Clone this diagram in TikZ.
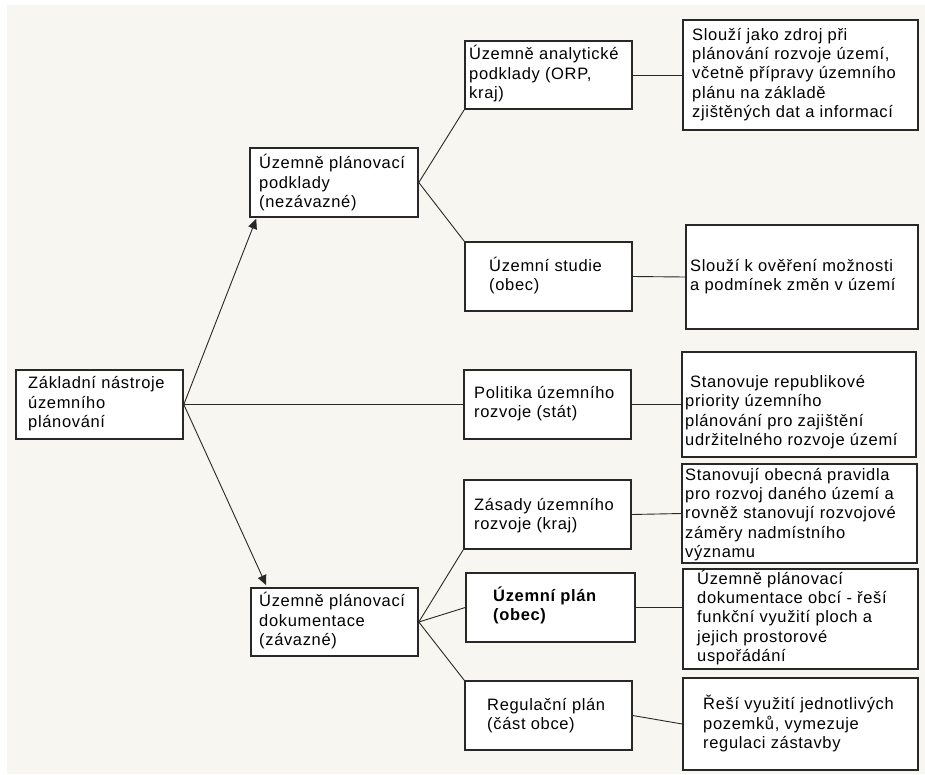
\documentclass[tikz,border=0pt]{standalone}
\usepackage{fontspec}
\setmainfont{Liberation Sans}[LetterSpace=4]
\usetikzlibrary{fit,arrows.meta}
\definecolor{bg}{RGB}{248,246,240}
\definecolor{ln}{RGB}{40,40,40}
\begin{document}
\begin{tikzpicture}[x=1pt,y=-1pt,
  box/.style={draw=ln, line width=1.6pt, fill=white, inner sep=0pt},
  txt/.style={anchor=base west, inner sep=0pt, align=left, font=\fontsize{16.5}{19.3}\selectfont},
  link/.style={draw=ln, line width=0.9pt},
  arr/.style={link, -{Triangle[length=10pt,width=9pt]}}]
\useasboundingbox (0,0) rectangle (925,774);
\fill[bg] (7,5) rectangle (925,774);

% boxes
\node[box, fit={(16,370)(183,439)}] (root) {};
\node[box, fit={(250,148)(418,217)}] (upp) {};
\node[box, fit={(465,41)(632,109)}] (uap) {};
\node[box, fit={(683,20)(918,130)}] (zdroj) {};
\node[box, fit={(465,242)(632,311)}] (us) {};
\node[box, fit={(686,225)(918,329)}] (over) {};
\node[box, fit={(464,370)(631,439)}] (pur) {};
\node[box, fit={(682,352)(916,457)}] (stan) {};
\node[box, fit={(464,480)(631,549)}] (zur) {};
\node[box, fit={(682,464)(917,563)}] (prav) {};
\node[box, fit={(251,588)(418,656)}] (upd) {};
\node[box, fit={(466,573)(635,642)}] (up) {};
\node[box, fit={(683,569)(918,669)}] (obci) {};
\node[box, fit={(465,681)(632,750)}] (rp) {};
\node[box, fit={(683,678)(918,770)}] (resi) {};

% texts (anchored at the baseline of the last line)
\node[txt] (root-t) at (28,427.5) {Základní nástroje\\územního\\plánování};
\node[txt] (upp-t) at (259,207.5) {Územně plánovací\\podklady\\(nezávazné)};
\node[txt] (uap-t) at (469,98.5) {Územně analytické\\podklady (ORP,\\kraj)};
\node[txt] (zdroj-t) at (692,117.5) {Slouží jako zdroj při\\plánování rozvoje území,\\včetně přípravy územního\\plánu na základě\\zjištěných dat a informací};
\node[txt] (us-t) at (489,290.5) {Územní studie\\(obec)};
\node[txt] (over-t) at (690,290.5) {Slouží k ověření možnosti\\a podmínek změn v území};
\node[txt] (pur-t) at (474,417.5) {Politika územního\\rozvoje (stát)};
\node[txt] (stan-t) at (685,445.5) {\hspace{5pt}Stanovuje republikové\\priority územního\\plánování pro zajištění\\udržitelného rozvoje území};
\node[txt] (zur-t) at (474,529.5) {Zásady územního\\rozvoje (kraj)};
\node[txt] (prav-t) at (685,557.5) {Stanovují obecná pravidla\\pro rozvoj daného území a\\rovněž stanovují rozvojové\\záměry nadmístního\\významu};
\node[txt] (upd-t) at (259,645.5) {Územně plánovací\\dokumentace\\(závazné)};
\node[txt, font=\fontsize{16.5}{19.3}\selectfont\bfseries] (up-t) at (493,620.5) {Územní plán\\(obec)};
\node[txt] (obci-t) at (697,661.5) {Územně plánovací\\dokumentace obcí - řeší\\funkční využití ploch a\\jejich prostorové\\uspořádání};
\node[txt] (rp-t) at (487,729.5) {Regulační plán\\(část obce)};
\node[txt] (resi-t) at (703,748.5) {Řeší využití jednotlivých\\pozemků, vymezuje\\regulaci zástavby};

% connectors
\draw[arr] (root.east) -- ([xshift=7pt,yshift=-1pt]upp.south west);
\draw[arr] (root.east) -- ([xshift=16pt,yshift=2pt]upd.north west);
\draw[link] (root.east) -- (pur.west);
\draw[link] (upp.east) -- (uap.south west);
\draw[link] (upp.east) -- (us.north west);
\draw[link] (uap.east) -- (zdroj.west);
\draw[link] (us.east) -- (over.west);
\draw[link] (pur.east) -- (stan.west);
\draw[link] (zur.east) -- (prav.west);
\draw[link] (upd.east) -- (zur.south west);
\draw[link] (upd.east) -- (up.west);
\draw[link] (upd.east) -- (rp.north west);
\draw[link] (up.east) -- (up.east -| obci.west);
\draw[link] (rp.east) -- (resi.west);
\end{tikzpicture}
\end{document}
